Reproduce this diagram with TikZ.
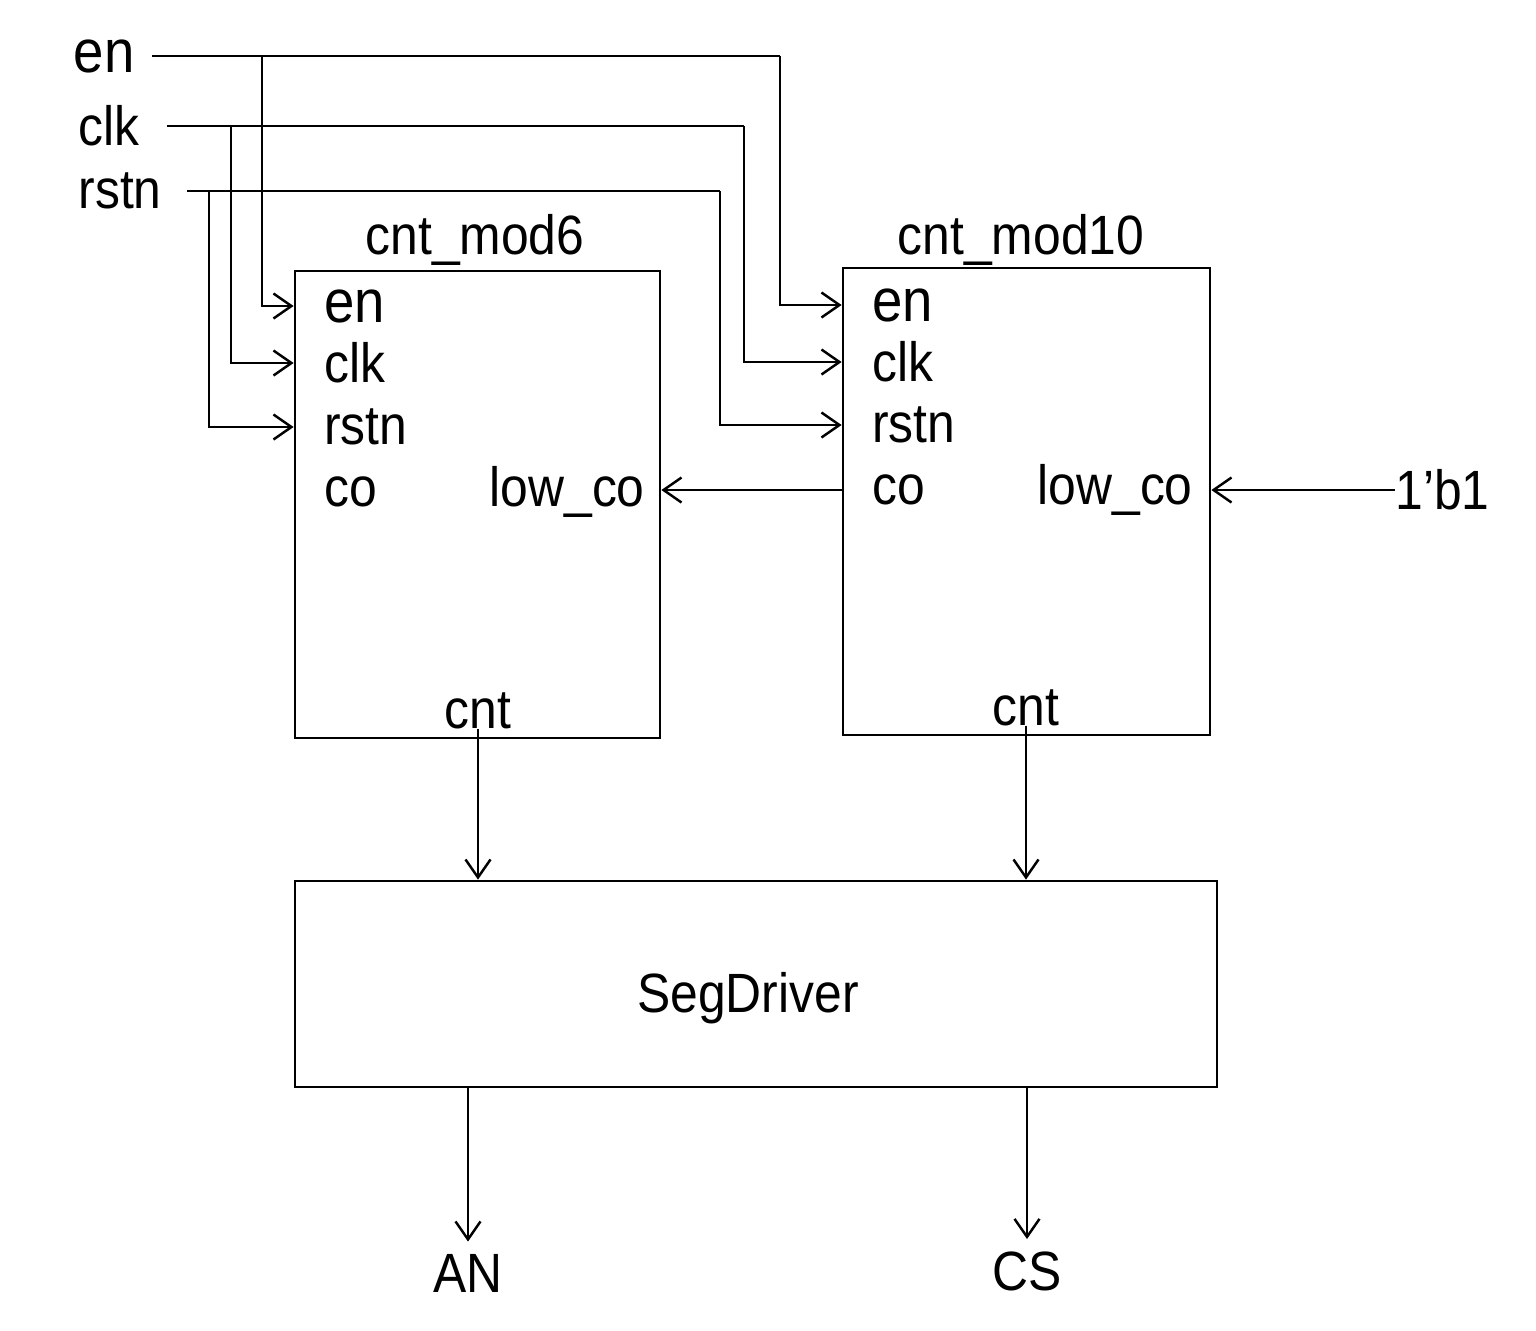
\documentclass[tikz,border=0pt]{standalone}
\usepackage{fontspec}
\setmainfont{Liberation Sans}[FakeStretch=0.9]
\usetikzlibrary{arrows.meta,positioning}

\begin{document}
\begin{tikzpicture}[
  x=0.02cm, y=-0.02cm,
  font=\fontsize{31.5}{36}\selectfont,
  block/.style={draw,line width=1.6pt,inner sep=0pt},
  port/.style={inner sep=0pt,anchor=west},
  sig/.style={inner sep=0pt},
  enfont/.style={font=\fontsize{34.5}{40}\selectfont},
  wire/.style={line width=1.4pt},
  arr/.style={wire,-{Straight Barb[length=0.36cm,width=0.5cm]}}
]
\useasboundingbox (0,0) rectangle (1536,1330);
% blocks
\node[block,minimum width=7.3cm,minimum height=9.34cm] (m6) at (477.5,504.5) {};
\node[block,minimum width=7.34cm,minimum height=9.34cm] (m10) at (1026.5,501.5) {};
\node[block,minimum width=18.44cm,minimum height=4.12cm] (seg) at (756,984) {};
\node[sig,anchor=base] (segLbl) at (748,1012) {SegDriver};
\node[sig,anchor=base] (t6) at (475,254) {cnt\_mod6};
\node[sig,anchor=base] (t10) at (1021,254) {cnt\_mod10};
% ports of cnt_mod6
\node[port,enfont] (p6en) at (324,306) {en};
\node[port] (p6clk) at (324,363) {clk};
\node[port] (p6rst) at (324,427) {rstn};
\node[port] (p6co) at (324,492) {co};
\node[sig,anchor=east] (p6lo) at (645,492) {low\_co};
\node[sig,anchor=base] (p6cnt) at (478,728) {cnt};
% ports of cnt_mod10
\node[port,enfont] (p10en) at (872,305) {en};
\node[port] (p10clk) at (872,362) {clk};
\node[port] (p10rst) at (872,425) {rstn};
\node[port] (p10co) at (872,490) {co};
\node[sig,anchor=east] (p10lo) at (1193,490) {low\_co};
\node[sig,anchor=base] (p10cnt) at (1026,725) {cnt};
% top level inputs
\coordinate (enSrc) at (152,56);
\coordinate (clkSrc) at (167,126);
\coordinate (rstSrc) at (187,191);
\node[sig,enfont,left=0.34cm of enSrc] (enIn) {en};
\node[sig,left=0.54cm of clkSrc] (clkIn) {clk};
\node[sig,left=0.5cm of rstSrc] (rstIn) {rstn};
\coordinate (j6en) at (262,56);   \coordinate (j10en) at (780,56);
\coordinate (j6clk) at (231,126); \coordinate (j10clk) at (744,126);
\coordinate (j6rst) at (209,191); \coordinate (j10rst) at (720,191);
\draw[wire] (enSrc) -- (j10en);
\draw[wire] (clkSrc) -- (j10clk);
\draw[wire] (rstSrc) -- (j10rst);
\draw[arr] (j6en) |- (m6.west |- p6en);
\draw[arr] (j6clk) |- (m6.west |- p6clk);
\draw[arr] (j6rst) |- (m6.west |- p6rst);
\draw[arr] (j10en) |- (m10.west |- p10en);
\draw[arr] (j10clk) |- (m10.west |- p10clk);
\draw[arr] (j10rst) |- (m10.west |- p10rst);
% carry chain
\node[sig,anchor=west] (one) at (1395,490) {1’b1};
\draw[arr] (one) -- (m10.east |- one);
\draw[arr] (m10.west |- p10co) -- (m6.east |- p10co);
% counts to driver
\draw[arr] (p6cnt.south) -- (seg.north -| p6cnt.south);
\draw[arr] (p10cnt.south) -- (seg.north -| p10cnt.south);
% outputs
\node[sig,anchor=base] (an) at (468,1292) {AN};
\node[sig,anchor=base] (cs) at (1027,1290) {CS};
\draw[arr,shorten >=0.24cm] (seg.south -| an.north) -- (an.north);
\draw[arr,shorten >=0.24cm] (seg.south -| cs.north) -- (cs.north);
\end{tikzpicture}
\end{document}
